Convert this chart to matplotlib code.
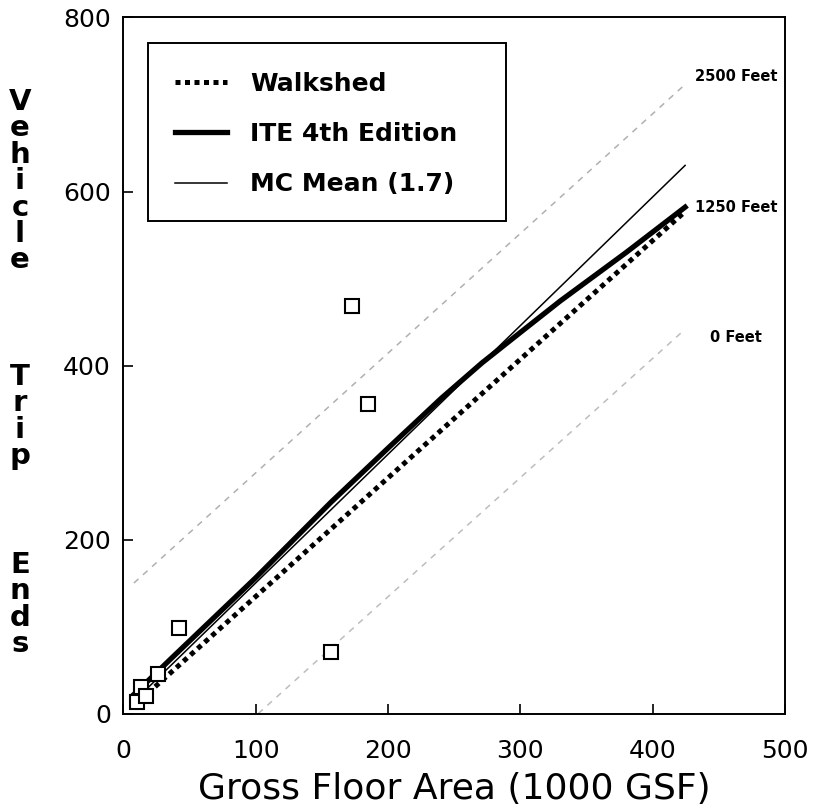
import matplotlib
matplotlib.use('Agg')
import matplotlib.pyplot as plt
from matplotlib.patches import Rectangle

# pontos observados (GSF em 1000, viagens)
obs_x = [10, 13, 17, 26, 42, 157, 172.5, 185]
obs_y = [13, 31, 20, 45, 98, 71, 468, 356]

# curvas
ite_x = [8, 36, 100, 157, 200, 240, 271, 300, 330, 380, 424.5]
ite_y = [22, 63, 156, 243, 305, 362, 403, 438, 474, 530, 582]

mc_x = [8, 424.5]
mc_y = [14, 630]

walk_x = [8, 424.5]
walk_y = [9, 577]

# faixas de 2500 e 0 pes
w2500_x = [8, 423]
w2500_y = [150, 721]
w0_x = [102, 424]
w0_y = [0, 441]

feet_labels = ['2500 Feet', '1250 Feet', '0 Feet']
feet_x = [432, 432, 443]
feet_y = [732, 582, 432]

fig = plt.figure(figsize=(8.13, 8.10), dpi=100)
ax = fig.add_axes([0.1517, 0.1191, 0.8139, 0.8593])

ax.plot(w2500_x, w2500_y, color='#b0b0b0', lw=1.1, dashes=(4, 4))
ax.plot(w0_x, w0_y, color='#bdbdbd', lw=1.1, dashes=(4, 4))

ax.plot(walk_x, walk_y, color='black', lw=3.6, linestyle=(0, (1, 0.9)), label='Walkshed')
ax.plot(ite_x, ite_y, color='black', lw=3.8, label='ITE 4th Edition')
ax.plot(mc_x, mc_y, color='black', lw=1.1, label='MC Mean (1.7)')

ax.plot(obs_x, obs_y, linestyle='none', marker='s', markersize=10,
        markerfacecolor='white', markeredgecolor='black', markeredgewidth=1.5)

for t, x, y in zip(feet_labels, feet_x, feet_y):
    ax.text(x, y, t, fontsize=10.5, fontweight='bold', va='center', ha='left')

ax.set_xlim(0, 500)
ax.set_ylim(0, 800)
ax.set_xticks([0, 100, 200, 300, 400, 500])
ax.set_yticks([0, 200, 400, 600, 800])
ax.tick_params(direction='in', length=7, width=1.2, labelsize=18)
ax.tick_params(axis='x', pad=18)
ax.tick_params(axis='y', pad=9)
for s in ax.spines.values():
    s.set_linewidth(1.4)

ax.set_xlabel('Gross Floor Area (1000 GSF)', fontsize=26, labelpad=7)

# titulo do eixo y, uma letra por linha
for palavra, inicio in [('Vehicle', 110), ('Trip', 385), ('Ends', 573)]:
    for i, c in enumerate(palavra):
        fig.text(20 / 813, 1 - (inicio + i * 26.4) / 810, c, fontsize=21,
                 fontweight='bold', ha='center', va='baseline')

# legenda
leg = ax.legend(loc='upper left', bbox_to_anchor=(0.0781, 0.922), borderaxespad=0,
                borderpad=0, frameon=False, prop={'size': 18, 'weight': 'bold'},
                handlelength=2.08, handletextpad=0.92, labelspacing=1.05)
ax.add_patch(Rectangle((0.0373, 0.7076), 0.5411, 0.2558, transform=ax.transAxes,
                       fill=False, edgecolor='black', lw=1.4, zorder=5))

fig.savefig('out.png', dpi=100)
